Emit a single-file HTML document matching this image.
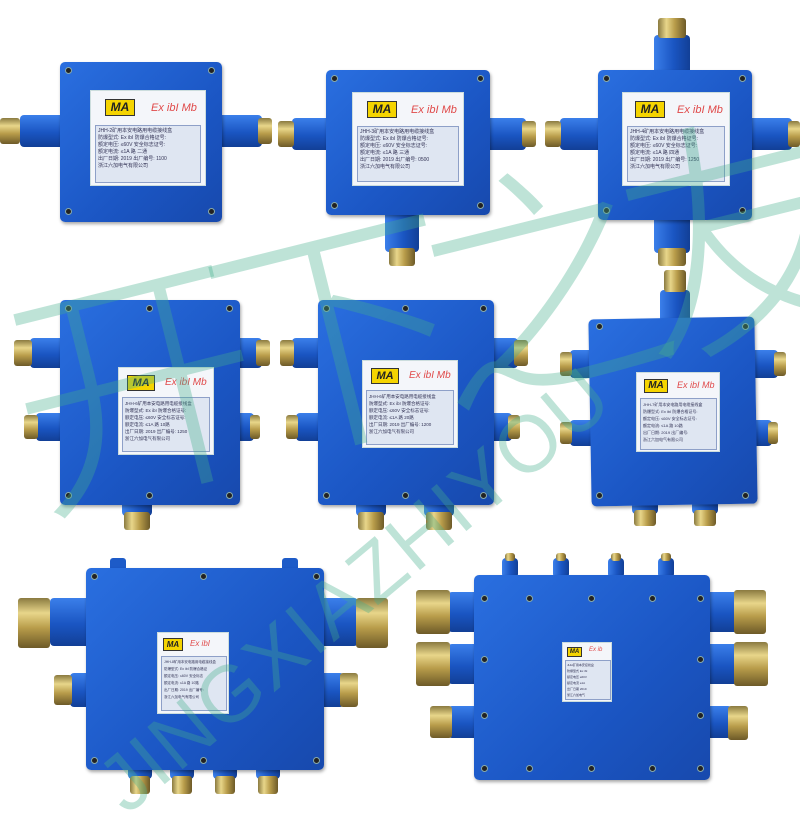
<!DOCTYPE html>
<html><head><meta charset="utf-8"><style>
body{margin:0;width:800px;height:800px;background:#fff;position:relative;overflow:hidden;font-family:"Liberation Sans","Noto Sans CJK SC",sans-serif}
div{position:absolute;box-sizing:border-box}
.b{background:linear-gradient(135deg,#2a6fe0,#1b56c4 60%,#1749ad);border-radius:5px;box-shadow:1px 2px 3px rgba(0,0,0,.35)}
.ph{background:linear-gradient(180deg,#3b7fea,#1a55c2 55%,#123f96);border-radius:4px}
.pv{background:linear-gradient(90deg,#3b7fea,#1a55c2 55%,#123f96);border-radius:4px}
.nh{background:linear-gradient(180deg,#8a7a40,#e8d68a 30%,#b89c4a 60%,#6d5a28);border-radius:3px}
.nv{background:linear-gradient(90deg,#8a7a40,#e8d68a 30%,#b89c4a 60%,#6d5a28);border-radius:3px}
.s{width:7px;height:7px;border-radius:50%;background:#222;border:1.5px solid #8aa}
.lab{background:#f4f6fa;border:1px solid #cdd;overflow:hidden}
.ma{background:#f5d400;border:1px solid #333;font-weight:bold;font-style:italic;color:#222;text-align:center}
.ex{color:#e04a4a;font-style:italic}
.t{background:#dfe6f2;border:1px solid #8ea0c8;color:#335;overflow:hidden;white-space:nowrap}
.wm{color:rgba(70,175,140,.35);white-space:nowrap}
</style></head><body>

<!-- Box 1 -->
<div class="ph" style="left:20px;top:115px;width:45px;height:32px"></div>
<div class="nh" style="left:0;top:118px;width:20px;height:26px"></div>
<div class="ph" style="left:218px;top:115px;width:44px;height:32px"></div>
<div class="nh" style="left:258px;top:118px;width:14px;height:26px"></div>
<div class="b" style="left:60px;top:62px;width:162px;height:160px"></div>
<div class="s" style="left:65px;top:67px"></div><div class="s" style="left:208px;top:67px"></div><div class="s" style="left:65px;top:208px"></div><div class="s" style="left:208px;top:208px"></div>
<div class="lab" style="left:90px;top:90px;width:116px;height:96px">
<div class="ma" style="left:14px;top:8px;width:30px;height:17px;font-size:12px;line-height:15px">MA</div>
<div class="ex" style="left:60px;top:11px;font-size:11px">Ex ibI Mb</div>
<div class="t" style="left:4px;top:34px;width:106px;height:58px;font-size:5px;line-height:7px;padding:2px">JHH-2矿用本安电路用电缆接线盒<br>防爆型式: Ex ibI 防爆合格证号:<br>额定电压: ≤60V 安全标志证号:<br>额定电流: ≤1A 路 二通<br>出厂日期: 2019 出厂编号: 1100<br>浙江六加电气有限公司</div></div>

<!-- Box 2 -->
<div class="ph" style="left:292px;top:118px;width:40px;height:32px"></div>
<div class="nh" style="left:278px;top:121px;width:16px;height:26px"></div>
<div class="ph" style="left:486px;top:118px;width:40px;height:32px"></div>
<div class="nh" style="left:522px;top:121px;width:14px;height:26px"></div>
<div class="pv" style="left:385px;top:210px;width:34px;height:42px"></div>
<div class="nv" style="left:389px;top:248px;width:26px;height:18px"></div>
<div class="b" style="left:326px;top:70px;width:164px;height:145px"></div>
<div class="s" style="left:331px;top:75px"></div><div class="s" style="left:477px;top:75px"></div><div class="s" style="left:331px;top:202px"></div><div class="s" style="left:477px;top:202px"></div>
<div class="lab" style="left:352px;top:92px;width:112px;height:94px">
<div class="ma" style="left:14px;top:8px;width:30px;height:17px;font-size:12px;line-height:15px">MA</div>
<div class="ex" style="left:58px;top:11px;font-size:11px">Ex ibI Mb</div>
<div class="t" style="left:4px;top:33px;width:102px;height:56px;font-size:5px;line-height:7px;padding:2px">JHH-3矿用本安电路用电缆接线盒<br>防爆型式: Ex ibI 防爆合格证号:<br>额定电压: ≤60V 安全标志证号:<br>额定电流: ≤1A 路 三通<br>出厂日期: 2019 出厂编号: 0500<br>浙江六加电气有限公司</div></div>

<!-- Box 3 -->
<div class="pv" style="left:654px;top:35px;width:36px;height:40px"></div>
<div class="nv" style="left:658px;top:18px;width:28px;height:20px"></div>
<div class="ph" style="left:560px;top:118px;width:44px;height:32px"></div>
<div class="nh" style="left:545px;top:121px;width:16px;height:26px"></div>
<div class="ph" style="left:748px;top:118px;width:44px;height:32px"></div>
<div class="nh" style="left:788px;top:121px;width:12px;height:26px"></div>
<div class="pv" style="left:654px;top:215px;width:36px;height:38px"></div>
<div class="nv" style="left:658px;top:248px;width:28px;height:18px"></div>
<div class="b" style="left:598px;top:70px;width:154px;height:150px"></div>
<div class="s" style="left:603px;top:75px"></div><div class="s" style="left:739px;top:75px"></div><div class="s" style="left:603px;top:207px"></div><div class="s" style="left:739px;top:207px"></div>
<div class="lab" style="left:622px;top:92px;width:108px;height:94px">
<div class="ma" style="left:12px;top:8px;width:30px;height:17px;font-size:12px;line-height:15px">MA</div>
<div class="ex" style="left:54px;top:11px;font-size:11px">Ex ibI Mb</div>
<div class="t" style="left:4px;top:33px;width:98px;height:56px;font-size:5px;line-height:7px;padding:2px">JHH-4矿用本安电路用电缆接线盒<br>防爆型式: Ex ibI 防爆合格证号:<br>额定电压: ≤60V 安全标志证号:<br>额定电流: ≤1A 路 四通<br>出厂日期: 2019 出厂编号: 1250<br>浙江六加电气有限公司</div></div>

<!-- Box 4 -->
<div class="ph" style="left:30px;top:338px;width:36px;height:30px"></div>
<div class="nh" style="left:14px;top:340px;width:18px;height:26px"></div>
<div class="ph" style="left:36px;top:413px;width:30px;height:28px"></div>
<div class="nh" style="left:24px;top:415px;width:14px;height:24px"></div>
<div class="ph" style="left:234px;top:338px;width:28px;height:30px"></div>
<div class="nh" style="left:256px;top:340px;width:14px;height:26px"></div>
<div class="ph" style="left:234px;top:413px;width:20px;height:28px"></div>
<div class="nh" style="left:250px;top:415px;width:10px;height:24px"></div>
<div class="pv" style="left:122px;top:500px;width:30px;height:16px"></div>
<div class="nv" style="left:124px;top:512px;width:26px;height:18px"></div>
<div class="b" style="left:60px;top:300px;width:180px;height:205px"></div>
<div class="s" style="left:65px;top:305px"></div><div class="s" style="left:226px;top:305px"></div><div class="s" style="left:65px;top:492px"></div><div class="s" style="left:226px;top:492px"></div><div class="s" style="left:146px;top:305px"></div><div class="s" style="left:146px;top:492px"></div>
<div class="lab" style="left:118px;top:367px;width:96px;height:88px">
<div class="ma" style="left:8px;top:7px;width:28px;height:16px;font-size:11px;line-height:14px">MA</div>
<div class="ex" style="left:46px;top:9px;font-size:10px">Ex ibI Mb</div>
<div class="t" style="left:3px;top:29px;width:88px;height:55px;font-size:4.5px;line-height:7px;padding:2px">JHH-6矿用本安电路用电缆接线盒<br>防爆型式: Ex ibI 防爆合格证号:<br>额定电压: ≤60V 安全标志证号:<br>额定电流: ≤1A 路 10路<br>出厂日期: 2019 出厂编号: 1250<br>浙江六加电气有限公司</div></div>

<!-- Box 5 -->
<div class="ph" style="left:292px;top:338px;width:32px;height:30px"></div>
<div class="nh" style="left:280px;top:340px;width:14px;height:26px"></div>
<div class="ph" style="left:296px;top:413px;width:28px;height:28px"></div>
<div class="nh" style="left:286px;top:415px;width:12px;height:24px"></div>
<div class="ph" style="left:488px;top:338px;width:30px;height:30px"></div>
<div class="nh" style="left:514px;top:340px;width:14px;height:26px"></div>
<div class="ph" style="left:488px;top:413px;width:24px;height:28px"></div>
<div class="nh" style="left:508px;top:415px;width:12px;height:24px"></div>
<div class="pv" style="left:356px;top:500px;width:30px;height:16px"></div>
<div class="nv" style="left:358px;top:512px;width:26px;height:18px"></div>
<div class="pv" style="left:424px;top:500px;width:30px;height:16px"></div>
<div class="nv" style="left:426px;top:512px;width:26px;height:18px"></div>
<div class="b" style="left:318px;top:300px;width:176px;height:205px"></div>
<div class="s" style="left:323px;top:305px"></div><div class="s" style="left:480px;top:305px"></div><div class="s" style="left:323px;top:492px"></div><div class="s" style="left:480px;top:492px"></div><div class="s" style="left:402px;top:305px"></div><div class="s" style="left:402px;top:492px"></div>
<div class="lab" style="left:362px;top:360px;width:96px;height:88px">
<div class="ma" style="left:8px;top:7px;width:28px;height:16px;font-size:11px;line-height:14px">MA</div>
<div class="ex" style="left:46px;top:9px;font-size:10px">Ex ibI Mb</div>
<div class="t" style="left:3px;top:29px;width:88px;height:55px;font-size:4.5px;line-height:7px;padding:2px">JHH-6矿用本安电路用电缆接线盒<br>防爆型式: Ex ibI 防爆合格证号:<br>额定电压: ≤60V 安全标志证号:<br>额定电流: ≤1A 路 20路<br>出厂日期: 2019 出厂编号: 1200<br>浙江六加电气有限公司</div></div>

<!-- Box 6 -->
<div class="pv" style="left:660px;top:290px;width:30px;height:32px"></div>
<div class="nv" style="left:664px;top:270px;width:22px;height:22px"></div>
<div class="ph" style="left:570px;top:350px;width:26px;height:28px"></div>
<div class="nh" style="left:560px;top:352px;width:12px;height:24px"></div>
<div class="ph" style="left:570px;top:420px;width:26px;height:26px"></div>
<div class="nh" style="left:560px;top:422px;width:12px;height:22px"></div>
<div class="ph" style="left:750px;top:350px;width:28px;height:28px"></div>
<div class="nh" style="left:774px;top:352px;width:12px;height:24px"></div>
<div class="ph" style="left:750px;top:420px;width:22px;height:26px"></div>
<div class="nh" style="left:768px;top:422px;width:10px;height:22px"></div>
<div class="pv" style="left:632px;top:500px;width:26px;height:14px"></div>
<div class="nv" style="left:634px;top:510px;width:22px;height:16px"></div>
<div class="pv" style="left:692px;top:500px;width:26px;height:14px"></div>
<div class="nv" style="left:694px;top:510px;width:22px;height:16px"></div>
<div class="b" style="left:590px;top:318px;width:166px;height:187px;transform:rotate(-1deg)"></div>
<div class="s" style="left:596px;top:323px"></div><div class="s" style="left:742px;top:323px"></div><div class="s" style="left:596px;top:492px"></div><div class="s" style="left:742px;top:492px"></div>
<div class="lab" style="left:636px;top:372px;width:84px;height:80px">
<div class="ma" style="left:7px;top:6px;width:24px;height:14px;font-size:10px;line-height:12px">MA</div>
<div class="ex" style="left:40px;top:7px;font-size:9px">Ex ibI Mb</div>
<div class="t" style="left:3px;top:25px;width:77px;height:52px;font-size:4px;line-height:7px;padding:2px">JHH-7矿用本安电路用电缆接线盒<br>防爆型式: Ex ibI 防爆合格证号:<br>额定电压: ≤60V 安全标志证号:<br>额定电流: ≤1A 路 10路<br>出厂日期: 2019 出厂编号:<br>浙江六加电气有限公司</div></div>

<!-- Box 7 -->
<div style="left:110px;top:558px;width:16px;height:16px;background:#1d5bc8;border-radius:3px"></div>
<div style="left:282px;top:558px;width:16px;height:16px;background:#1d5bc8;border-radius:3px"></div>
<div class="ph" style="left:50px;top:598px;width:40px;height:48px"></div>
<div class="nh" style="left:18px;top:598px;width:32px;height:50px"></div>
<div class="ph" style="left:318px;top:598px;width:40px;height:48px"></div>
<div class="nh" style="left:356px;top:598px;width:32px;height:50px"></div>
<div class="ph" style="left:70px;top:673px;width:20px;height:34px"></div>
<div class="nh" style="left:54px;top:675px;width:18px;height:30px"></div>
<div class="ph" style="left:318px;top:673px;width:26px;height:34px"></div>
<div class="nh" style="left:340px;top:673px;width:18px;height:34px"></div>
<div class="pv" style="left:128px;top:765px;width:24px;height:14px"></div><div class="nv" style="left:130px;top:776px;width:20px;height:18px"></div>
<div class="pv" style="left:170px;top:765px;width:24px;height:14px"></div><div class="nv" style="left:172px;top:776px;width:20px;height:18px"></div>
<div class="pv" style="left:213px;top:765px;width:24px;height:14px"></div><div class="nv" style="left:215px;top:776px;width:20px;height:18px"></div>
<div class="pv" style="left:256px;top:765px;width:24px;height:14px"></div><div class="nv" style="left:258px;top:776px;width:20px;height:18px"></div>
<div class="b" style="left:86px;top:568px;width:238px;height:202px"></div>
<div class="s" style="left:91px;top:573px"></div><div class="s" style="left:200px;top:573px"></div><div class="s" style="left:313px;top:573px"></div><div class="s" style="left:91px;top:757px"></div><div class="s" style="left:200px;top:757px"></div><div class="s" style="left:313px;top:757px"></div>
<div class="lab" style="left:157px;top:632px;width:72px;height:82px">
<div class="ma" style="left:5px;top:5px;width:20px;height:13px;font-size:8px;line-height:11px">MA</div>
<div class="ex" style="left:32px;top:6px;font-size:8px">Ex ibI</div>
<div class="t" style="left:3px;top:23px;width:66px;height:55px;font-size:3.5px;line-height:7px;padding:2px">JHH-8矿用本安电路用电缆接线盒<br>防爆型式: Ex ibI 防爆合格证<br>额定电压: ≤60V 安全标志<br>额定电流: ≤1A 路 10路<br>出厂日期: 2019 出厂编号:<br>浙江六加电气有限公司</div></div>

<!-- Box 8 -->
<div class="pv" style="left:502px;top:558px;width:16px;height:20px"></div><div class="nv" style="left:505px;top:553px;width:10px;height:8px"></div>
<div class="pv" style="left:553px;top:558px;width:16px;height:20px"></div><div class="nv" style="left:556px;top:553px;width:10px;height:8px"></div>
<div class="pv" style="left:608px;top:558px;width:16px;height:20px"></div><div class="nv" style="left:611px;top:553px;width:10px;height:8px"></div>
<div class="pv" style="left:658px;top:558px;width:16px;height:20px"></div><div class="nv" style="left:661px;top:553px;width:10px;height:8px"></div>
<div class="ph" style="left:448px;top:592px;width:32px;height:40px"></div><div class="nh" style="left:416px;top:590px;width:34px;height:44px"></div>
<div class="ph" style="left:448px;top:644px;width:32px;height:40px"></div><div class="nh" style="left:416px;top:642px;width:34px;height:44px"></div>
<div class="ph" style="left:448px;top:706px;width:32px;height:32px"></div><div class="nh" style="left:430px;top:706px;width:22px;height:32px"></div>
<div class="ph" style="left:706px;top:592px;width:32px;height:40px"></div><div class="nh" style="left:734px;top:590px;width:32px;height:44px"></div>
<div class="ph" style="left:706px;top:644px;width:32px;height:40px"></div><div class="nh" style="left:734px;top:642px;width:34px;height:44px"></div>
<div class="ph" style="left:706px;top:706px;width:26px;height:32px"></div><div class="nh" style="left:728px;top:706px;width:20px;height:34px"></div>
<div class="b" style="left:474px;top:575px;width:236px;height:205px"></div>
<div class="s" style="left:481px;top:595px"></div><div class="s" style="left:526px;top:595px"></div><div class="s" style="left:588px;top:595px"></div><div class="s" style="left:649px;top:595px"></div><div class="s" style="left:697px;top:595px"></div>
<div class="s" style="left:481px;top:656px"></div><div class="s" style="left:697px;top:656px"></div><div class="s" style="left:481px;top:712px"></div><div class="s" style="left:697px;top:712px"></div>
<div class="s" style="left:481px;top:765px"></div><div class="s" style="left:526px;top:765px"></div><div class="s" style="left:588px;top:765px"></div><div class="s" style="left:649px;top:765px"></div><div class="s" style="left:697px;top:765px"></div>
<div class="lab" style="left:562px;top:642px;width:50px;height:60px">
<div class="ma" style="left:4px;top:4px;width:15px;height:10px;font-size:6px;line-height:8px">MA</div>
<div class="ex" style="left:26px;top:4px;font-size:6px">Ex ib</div>
<div class="t" style="left:2px;top:17px;width:46px;height:40px;font-size:3px;line-height:6px;padding:1px">JHH矿用本安接线盒<br>防爆型式 Ex ibI<br>额定电压 ≤60V<br>额定电流 ≤1A<br>出厂日期 2019<br>浙江六加电气</div></div>

<!-- Watermark -->
<div class="wm" style="left:10px;top:250px;font-size:250px;line-height:300px;font-family:'Noto Sans CJK SC',sans-serif;font-weight:300;letter-spacing:-40px;transform:rotate(-14deg);transform-origin:0 50%">开下之友</div>
<div class="wm" style="left:80px;top:760px;font-size:80px;font-weight:300;transform:rotate(-40deg);transform-origin:0 0;letter-spacing:2px">JINGXIAZHIYOU</div>
</body></html>
